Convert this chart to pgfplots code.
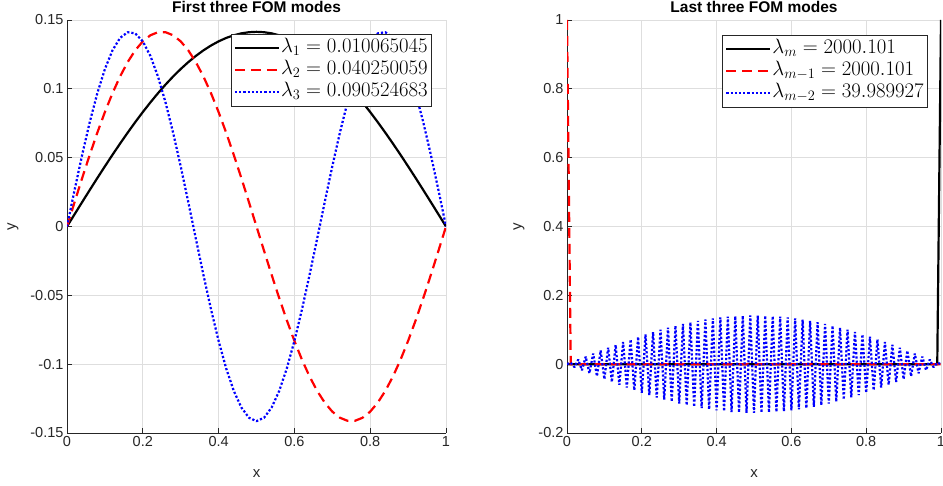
\documentclass[border=0pt]{standalone}
\usepackage[no-math]{fontspec}
\setmainfont{Liberation Sans}
\usepackage{pgfplots}
\usepackage{pgfplotstable}
\pgfplotsset{compat=1.18}

\pgfplotstableread{
x m1 m2 m3
0.00 0 0 0
0.02 0.00888 0.01772 0.02650
0.04 0.01772 0.03517 0.05205
0.06 0.02650 0.05205 0.07577
0.08 0.03517 0.06812 0.09680
0.10 0.04370 0.08311 0.11439
0.12 0.05205 0.09680 0.12794
0.14 0.06021 0.10895 0.13696
0.16 0.06812 0.11939 0.14112
0.18 0.07577 0.12794 0.14029
0.20 0.08311 0.13448 0.13448
0.22 0.09013 0.13890 0.12391
0.24 0.09680 0.14112 0.10895
0.26 0.10308 0.14112 0.09013
0.28 0.10895 0.13890 0.06812
0.30 0.11439 0.13448 0.04370
0.32 0.11939 0.12794 0.01772
0.34 0.12391 0.11939 -0.00888
0.36 0.12794 0.10895 -0.03517
0.38 0.13147 0.09680 -0.06021
0.40 0.13448 0.08311 -0.08311
0.42 0.13696 0.06812 -0.10308
0.44 0.13890 0.05205 -0.11939
0.46 0.14029 0.03517 -0.13147
0.48 0.14112 0.01772 -0.13890
0.50 0.14140 0 -0.14140
0.52 0.14112 -0.01772 -0.13890
0.54 0.14029 -0.03517 -0.13147
0.56 0.13890 -0.05205 -0.11939
0.58 0.13696 -0.06812 -0.10308
0.60 0.13448 -0.08311 -0.08311
0.62 0.13147 -0.09680 -0.06021
0.64 0.12794 -0.10895 -0.03517
0.66 0.12391 -0.11939 -0.00888
0.68 0.11939 -0.12794 0.01772
0.70 0.11439 -0.13448 0.04370
0.72 0.10895 -0.13890 0.06812
0.74 0.10308 -0.14112 0.09013
0.76 0.09680 -0.14112 0.10895
0.78 0.09013 -0.13890 0.12391
0.80 0.08311 -0.13448 0.13448
0.82 0.07577 -0.12794 0.14029
0.84 0.06812 -0.11939 0.14112
0.86 0.06021 -0.10895 0.13696
0.88 0.05205 -0.09680 0.12794
0.90 0.04370 -0.08311 0.11439
0.92 0.03517 -0.06812 0.09680
0.94 0.02650 -0.05205 0.07577
0.96 0.01772 -0.03517 0.05205
0.98 0.00888 -0.01772 0.02650
1.00 0 0 0
}\firstmodes

\pgfplotstableread{
x y
0.00 0
0.01 0.00444
0.02 -0.00888
0.03 0.01331
0.04 -0.01772
0.05 0.02212
0.06 -0.02650
0.07 0.03085
0.08 -0.03517
0.09 0.03945
0.10 -0.04370
0.11 0.04790
0.12 -0.05205
0.13 0.05616
0.14 -0.06021
0.15 0.06419
0.16 -0.06812
0.17 0.07198
0.18 -0.07577
0.19 0.07948
0.20 -0.08311
0.21 0.08667
0.22 -0.09013
0.23 0.09351
0.24 -0.09680
0.25 0.09999
0.26 -0.10308
0.27 0.10607
0.28 -0.10895
0.29 0.11173
0.30 -0.11439
0.31 0.11695
0.32 -0.11939
0.33 0.12171
0.34 -0.12391
0.35 0.12599
0.36 -0.12794
0.37 0.12977
0.38 -0.13147
0.39 0.13304
0.40 -0.13448
0.41 0.13579
0.42 -0.13696
0.43 0.13800
0.44 -0.13890
0.45 0.13966
0.46 -0.14029
0.47 0.14077
0.48 -0.14112
0.49 0.14133
0.50 -0.14140
0.51 0.14133
0.52 -0.14112
0.53 0.14077
0.54 -0.14029
0.55 0.13966
0.56 -0.13890
0.57 0.13800
0.58 -0.13696
0.59 0.13579
0.60 -0.13448
0.61 0.13304
0.62 -0.13147
0.63 0.12977
0.64 -0.12794
0.65 0.12599
0.66 -0.12391
0.67 0.12171
0.68 -0.11939
0.69 0.11695
0.70 -0.11439
0.71 0.11173
0.72 -0.10895
0.73 0.10607
0.74 -0.10308
0.75 0.09999
0.76 -0.09680
0.77 0.09351
0.78 -0.09013
0.79 0.08667
0.80 -0.08311
0.81 0.07948
0.82 -0.07577
0.83 0.07198
0.84 -0.06812
0.85 0.06419
0.86 -0.06021
0.87 0.05616
0.88 -0.05205
0.89 0.04790
0.90 -0.04370
0.91 0.03945
0.92 -0.03517
0.93 0.03085
0.94 -0.02650
0.95 0.02212
0.96 -0.01772
0.97 0.01331
0.98 -0.00888
0.99 0.00444
1.00 0
}\lastblue

\pgfplotsset{
  mystyle/.style={
    scale only axis, height=413pt, anchor=south west,
    axis x line*=bottom, axis y line*=left,
    axis line style={black!85, line width=0.8pt},
    tick align=inside, major tick length=5pt,
    tick style={black!85, line width=0.8pt},
    grid=major, major grid style={black!13, line width=0.8pt},
    ticklabel style={font=\fontsize{14.5}{16}\selectfont, text=black!85},
    label style={font=\fontsize{15}{17}\selectfont, text=black!85},
    title style={font=\fontsize{15.5}{18}\selectfont\bfseries, at={(axis description cs:0.5,1)}, anchor=base, yshift=1pt},
    xlabel style={at={(axis description cs:0.5,0)}, anchor=base, yshift=-45pt},
    legend style={font=\fontsize{21}{22}\selectfont, draw=black!85, line width=0.6pt, fill=white,
      inner xsep=3pt, inner ysep=3pt, row sep=0pt,
      nodes={inner xsep=1pt, inner ysep=1pt, text height=14.5pt, text depth=5.5pt}, anchor=north east},
    legend cell align=left,
    legend image code/.code={\draw[##1] (0pt,0pt) -- (44pt,0pt);},
    xmin=0, xmax=1,
    xtick={0,0.2,0.4,0.6,0.8,1},
    xticklabels={0,0.2,0.4,0.6,0.8,1},
  },
  sol/.style={black, line width=2.2pt},
  das/.style={red, line width=2.2pt, dash pattern=on 10pt off 6pt},
  dot/.style={blue, line width=2.2pt, dash pattern=on 2.2pt off 2pt, line join=bevel},
}

\begin{document}
\begin{tikzpicture}
\begin{axis}[mystyle, at={(67pt,53pt)}, width=379pt,
  ymin=-0.15, ymax=0.15,
  ytick={-0.15,-0.1,-0.05,0,0.05,0.1,0.15},
  yticklabels={-0.15,-0.1,-0.05,0,0.05,0.1,0.15},
  title={First three FOM modes}, xlabel={x}, ylabel={y},
  ylabel style={at={(axis description cs:0,0.5)}, anchor=center, yshift=54pt},
  legend style={at={(axis description cs:0.963,0.966)}},
]
\addplot[sol] table[x=x, y=m1] {\firstmodes};
\addlegendentry{$\lambda_1 = 0.010065045$}
\addplot[das] table[x=x, y=m2] {\firstmodes};
\addlegendentry{$\lambda_2 = 0.040250059$}
\addplot[dot] table[x=x, y=m3] {\firstmodes};
\addlegendentry{$\lambda_3 = 0.090524683$}
\end{axis}

\begin{axis}[mystyle, at={(567pt,53pt)}, width=374pt,
  ymin=-0.2, ymax=1,
  ytick={-0.2,0,0.2,0.4,0.6,0.8,1},
  yticklabels={-0.2,0,0.2,0.4,0.6,0.8,1},
  title={Last three FOM modes}, xlabel={x}, ylabel={y},
  ylabel style={at={(axis description cs:0,0.5)}, anchor=center, yshift=48pt},
  legend style={at={(axis description cs:0.965,0.964)}},
]
\addplot[sol] coordinates {(0,0) (0.99,0) (1,1)};
\addlegendentry{$\lambda_m = 2000.101$}
\addplot[das] coordinates {(0,1) (0.01,0) (1,0)};
\addlegendentry{$\lambda_{m-1} = 2000.101$}
\addplot[dot] table[x=x, y=y] {\lastblue};
\addlegendentry{$\lambda_{m-2} = 39.989927$}
\end{axis}
\pgfresetboundingbox
\useasboundingbox (0pt,0pt) rectangle (943pt,486pt);
\end{tikzpicture}
\end{document}
